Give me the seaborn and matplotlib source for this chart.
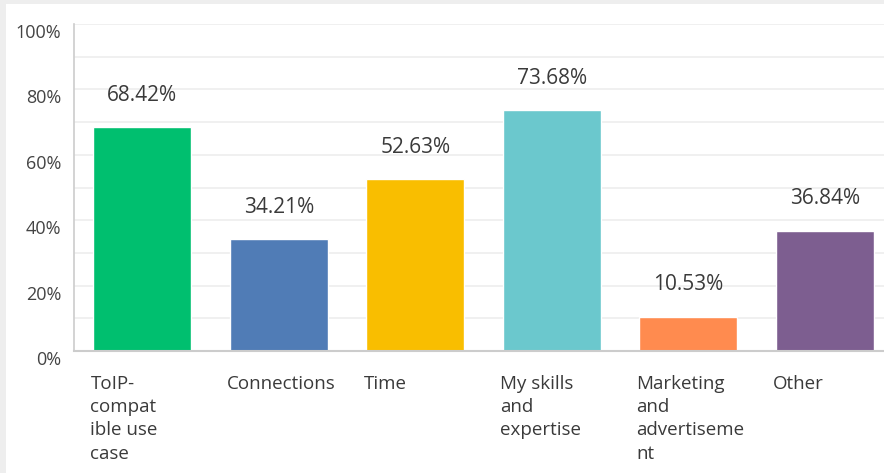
import matplotlib
matplotlib.use('Agg')
import matplotlib.pyplot as plt
import seaborn as sns
import pandas as pd
from matplotlib.patches import Rectangle

# --- data ---
categories = ["ToIP-\ncompat\nible use\ncase", "Connections", "Time",
              "My skills\nand\nexpertise", "Marketing\nand\nadvertiseme\nnt", "Other"]
percentages = [68.42, 34.21, 52.63, 73.68, 10.53, 36.84]
bar_colors = ["#00BF6F", "#507CB6", "#F9BE00", "#6BC8CD", "#FF8B4F", "#7D5E90"]
y_ticks = [0, 20, 40, 60, 80, 100]

df = pd.DataFrame({"category": categories, "pct": percentages})

sns.set_theme(style="white")
plt.rcParams['font.family'] = ['Open Sans', 'DejaVu Sans']

fig = plt.figure(figsize=(8.84, 4.73), dpi=100)
fig.patch.set_facecolor("white")
# thin gray frame at top and left, as in the screenshot
fig.patches.append(Rectangle((0, 1 - 4 / 473), 1, 4 / 473, transform=fig.transFigure,
                             facecolor="#eeeeee", edgecolor="none"))
fig.patches.append(Rectangle((0, 0), 6 / 884, 1, transform=fig.transFigure,
                             facecolor="#eeeeee", edgecolor="none"))

ax = fig.add_axes([74 / 884, 1 - 351 / 473, 819 / 884, 327 / 473])
ax.set_facecolor("none")

sns.barplot(data=df, x="category", y="pct", hue="category", palette=bar_colors,
            width=0.72, legend=False, saturation=1, ax=ax)

ax.set_ylim(0, 100)
ax.set_xlim(-0.5, len(categories) - 0.5)

# light gridlines every 10%
for v in range(10, 101, 10):
    ax.axhline(v, color="#eeeeee", linewidth=1.2, zorder=0)

ax.set_yticks(y_ticks)
ax.set_yticklabels([f"{v}%" for v in y_ticks], color="#444444", fontsize=13)
ax.tick_params(axis='y', length=0, pad=9)
for lbl in ax.get_yticklabels():
    lbl.set_verticalalignment('top')

# category labels, left-aligned at bar left edge
ax.set_xticks([i - 0.38 for i in range(len(categories))])
ax.set_xticklabels(categories, ha="left", va="top", color="#3a3a3a", fontsize=13.5,
                   linespacing=1.38)
ax.tick_params(axis='x', length=0, pad=17)

# value labels above bars
for i, v in enumerate(percentages):
    ax.text(i, v + 6.5, f"{v:.2f}%", ha="center", va="bottom", fontsize=15,
            color="#3a3a3a")

ax.set_xlabel("")
ax.set_ylabel("")
for side in ["top", "right"]:
    ax.spines[side].set_visible(False)
ax.spines["left"].set_color("#cccccc")
ax.spines["bottom"].set_color("#cccccc")
ax.spines["left"].set_linewidth(1.2)
ax.spines["bottom"].set_linewidth(1.5)

fig.savefig("out.png", dpi=100)
